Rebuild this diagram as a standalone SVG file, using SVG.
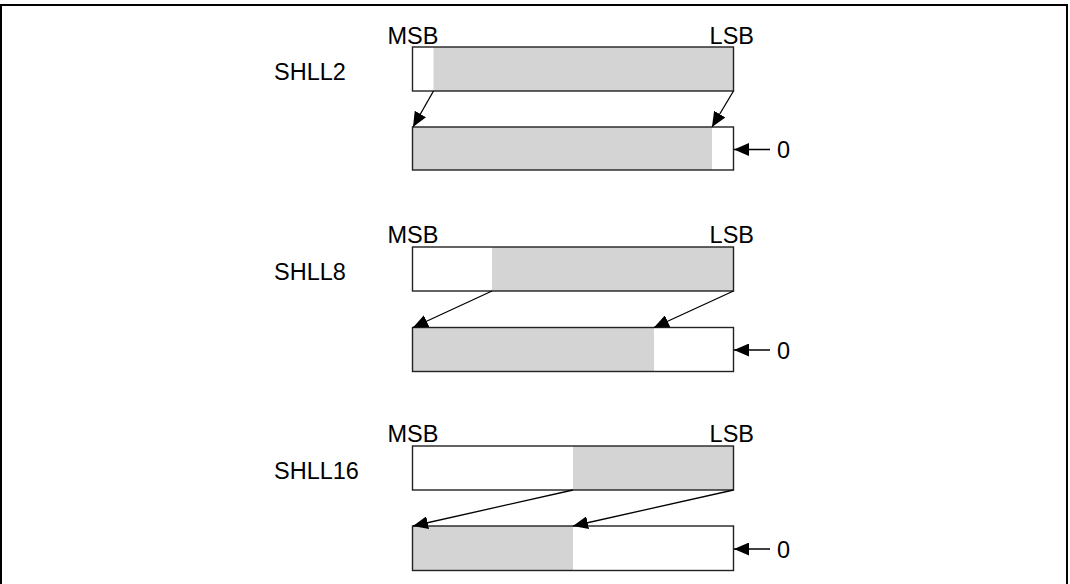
<svg xmlns="http://www.w3.org/2000/svg" width="1070" height="584" viewBox="0 0 1070 584">
  <style>
    .lbl { font-family: "Liberation Sans", Arial, sans-serif; font-size: 23.5px; fill: #000; }
    .end { text-anchor: end; }
    .reg { fill: #fff; stroke: none; }
    .data { fill: #d4d4d4; stroke: none; }
    .edge { fill: none; stroke: #222; stroke-width: 1.4; }
    .flow { fill: none; stroke: #000; stroke-width: 1.3; marker-end: url(#head); }
  </style>
  <defs>
    <marker id="head" markerUnits="userSpaceOnUse" markerWidth="16" markerHeight="13" refX="15" refY="6.5" orient="auto">
      <path d="M0,0 L15,6.5 L0,13 Z" fill="#000"/>
    </marker>
  </defs>

  <!-- outer frame -->
  <rect x="1" y="5" width="1066" height="600" fill="#fff" stroke="#000" stroke-width="2"/>

  <!-- SHLL2 -->
  <g id="shll2">
    <text class="lbl" x="274" y="79.5">SHLL2</text>
    <text class="lbl" x="387.5" y="43.5">MSB</text>
    <text class="lbl end" x="754" y="43.5">LSB</text>
    <g id="shll2-src">
      <rect class="reg" x="412.5" y="47" width="321" height="44"/>
      <rect class="data" x="433.5" y="47" width="300" height="44"/>
      <rect class="edge" x="412.5" y="47" width="321" height="44"/>
    </g>
    <g id="shll2-dst">
      <rect class="reg" x="412.5" y="127" width="321" height="43"/>
      <rect class="data" x="412.5" y="127" width="299.5" height="43"/>
      <rect class="edge" x="412.5" y="127" width="321" height="43"/>
    </g>
    <text class="lbl" x="777" y="158">0</text>
  </g>

  <!-- SHLL8 -->
  <g id="shll8">
    <text class="lbl" x="274" y="279.5">SHLL8</text>
    <text class="lbl" x="387.5" y="242.5">MSB</text>
    <text class="lbl end" x="754" y="242.5">LSB</text>
    <g id="shll8-src">
      <rect class="reg" x="412.5" y="247" width="321" height="44"/>
      <rect class="data" x="492" y="247" width="241.5" height="44"/>
      <rect class="edge" x="412.5" y="247" width="321" height="44"/>
    </g>
    <g id="shll8-dst">
      <rect class="reg" x="412.5" y="327.5" width="321" height="44"/>
      <rect class="data" x="412.5" y="327.5" width="241.5" height="44"/>
      <rect class="edge" x="412.5" y="327.5" width="321" height="44"/>
    </g>
    <text class="lbl" x="777" y="358.5">0</text>
  </g>

  <!-- SHLL16 -->
  <g id="shll16">
    <text class="lbl" x="274" y="478.5">SHLL16</text>
    <text class="lbl" x="387.5" y="441.5">MSB</text>
    <text class="lbl end" x="754" y="441.5">LSB</text>
    <g id="shll16-src">
      <rect class="reg" x="412.5" y="446" width="321" height="44"/>
      <rect class="data" x="573" y="446" width="160.5" height="44"/>
      <rect class="edge" x="412.5" y="446" width="321" height="44"/>
    </g>
    <g id="shll16-dst">
      <rect class="reg" x="412.5" y="526" width="321" height="44.5"/>
      <rect class="data" x="412.5" y="526" width="160.5" height="44.5"/>
      <rect class="edge" x="412.5" y="526" width="321" height="44.5"/>
    </g>
    <text class="lbl" x="777" y="557.5">0</text>
  </g>

  <!-- shift connectors -->
  <g id="connectors">
    <line class="flow" x1="433.5" y1="91" x2="413" y2="127"/>
    <line class="flow" x1="733.5" y1="91" x2="712" y2="127"/>
    <line class="flow" x1="770" y1="149.5" x2="734" y2="149.5"/>

    <line class="flow" x1="492" y1="291" x2="413" y2="327.5"/>
    <line class="flow" x1="733.5" y1="291" x2="654" y2="327.5"/>
    <line class="flow" x1="770" y1="350" x2="734" y2="350"/>

    <line class="flow" x1="573" y1="490" x2="413" y2="526"/>
    <line class="flow" x1="733.5" y1="490" x2="573" y2="526"/>
    <line class="flow" x1="770" y1="549" x2="734" y2="549"/>
  </g>
</svg>
